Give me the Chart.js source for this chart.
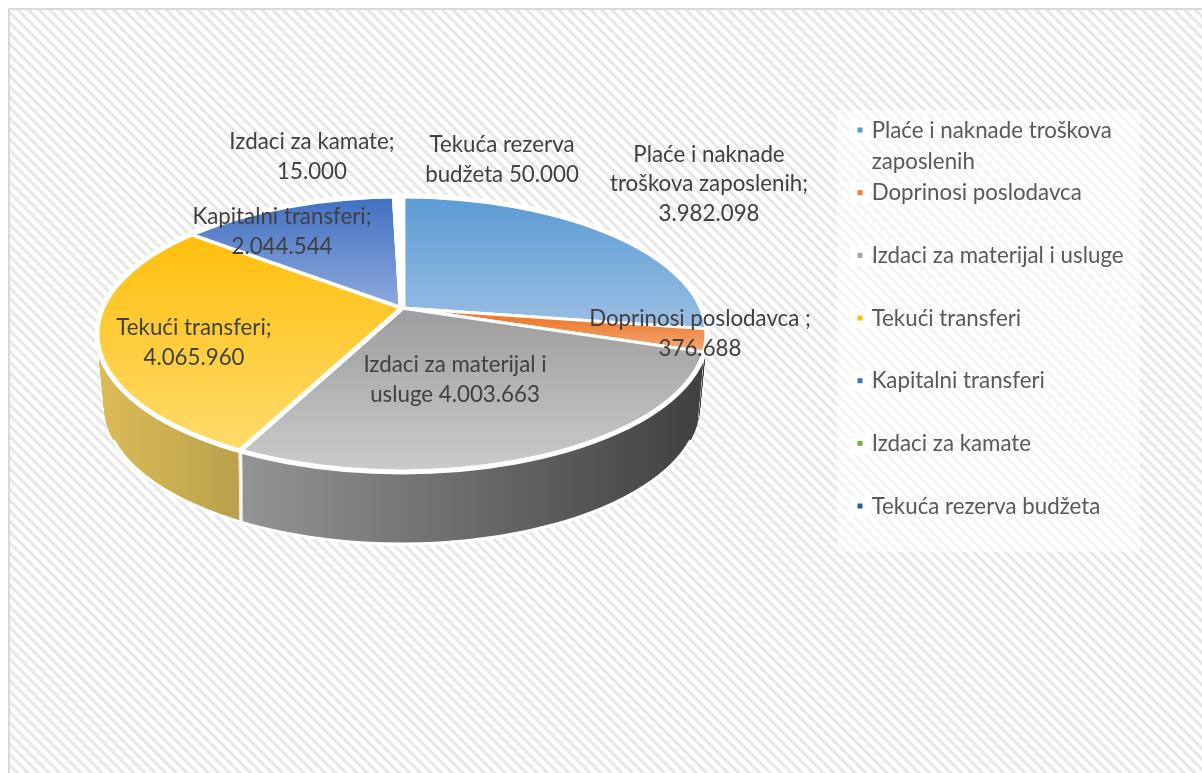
<!DOCTYPE html>
<html><head><meta charset="utf-8">
<style>
html,body{margin:0;padding:0;width:1202px;height:773px;overflow:hidden;background:#fff}
#bg{position:absolute;left:8px;top:8px;width:1194px;height:765px;box-sizing:border-box;border-left:2px solid #d9d9d9;border-top:2px solid #d9d9d9;
background:repeating-linear-gradient(45deg,#fff 0,#fff 3px,#e6e6e6 4.5px,#e6e6e6 6px,#fff 7.5px)}
canvas{position:absolute;left:0;top:0}
</style>
<script src="https://cdn.jsdelivr.net/npm/chart.js@4"></script>
</head><body><div id="bg"></div><canvas id="c" width="1202" height="773"></canvas>
<script>
const categories=['Plaće i naknade troškova zaposlenih','Doprinosi poslodavca','Izdaci za materijal i usluge','Tekući transferi','Kapitalni transferi','Izdaci za kamate','Tekuća rezerva budžeta'];
const values=[3982098,376688,4003663,4065960,2044544,15000,50000];
const legendLines=[['Plaće i naknade troškova','zaposlenih'],['Doprinosi poslodavca',''],['Izdaci za materijal i usluge',''],['Tekući transferi',''],['Kapitalni transferi',''],['Izdaci za kamate',''],['Tekuća rezerva budžeta','']];
const legendColors=['#5b9bd5','#ed7d31','#a5a5a5','#ffc000','#4472c4','#70ad47','#255e91'];
const topStops=[['#5b9bd5','#9dc0e3',196,335],['#ed7d31','#f4a878',320,350],['#a0a0a0','#cbcbcb',320,472],['#ffbf0c','#fedb6c',235,450],['#4070c2','#8fa9dc',196,308],['#70ad47','#70ad47',196,308],['#255e91','#255e91',196,308]];
const sideStops=[['#3f3f3f','#3f3f3f',600,710],['#3f3f3f','#3f3f3f',600,710],['#949494','#3f3f3f',243,707],['#dcbc58','#b9a04a',98,241],['#dcbc58','#dcbc58',190,400],['#dcbc58','#dcbc58',190,400],['#dcbc58','#dcbc58',190,400]];
const labelLines=[['Plaće i naknade','troškova zaposlenih;','@'],['Doprinosi poslodavca ;','@'],['Izdaci za materijal i','usluge @'],['Tekući transferi;','@'],['Kapitalni transferi;','@'],['Izdaci za kamate;','@'],['Tekuća rezerva','budžeta @']];
const labelAnchorX=[709,700,455,194,282,312,502];
const labelAnchorY=[154.5,319,365,328,217,142,145];
const labelStep=29.5;
const fontName='Lato, Carlito, "Open Sans", sans-serif';
const fontSize=22.3;
const apex={x:402,y:308}, squash=0.45, rim={cx:402,cy:334,rx:305,ry:138}, depth=72, baseRx=298;
const rowStep=62.67;
const fmt=v=>String(v).replace(/\B(?=(\d{3})+$)/g,'.');
const center=ch=>({x:(ch.chartArea.left+ch.chartArea.right)/2,y:(ch.chartArea.top+ch.chartArea.bottom)/2});
function topFill(ctx){
  const ch=ctx.chart,i=ctx.dataIndex;
  if(!ch.chartArea||i===undefined) return legendColors[i||0];
  const c=center(ch),s=topStops[i];
  const g=ch.ctx.createLinearGradient(0,c.y+(s[2]-apex.y)/squash,0,c.y+(s[3]-apex.y)/squash);
  g.addColorStop(0,s[0]);g.addColorStop(1,s[1]);return g;
}
const rxAt=d=>rim.rx+(baseRx-rim.rx)*d/depth;
const ellipsePath=(ctx,dy,a0=0,a1=Math.PI*2)=>{ctx.beginPath();ctx.ellipse(rim.cx,rim.cy+dy,rxAt(dy),rim.ry,0,a0,a1);};
const pie3d={id:'pie3d',
  afterLayout(ch){const l=ch.legend;l.left=860.5;l.right=1180;l.top=119.4;l.bottom=773;},
  beforeDraw(ch){
    const ctx=ch.ctx;ctx.save();
    ctx.fillStyle='rgba(255,255,255,0.55)';ctx.fillRect(837,110,303,442);
    ctx.restore();
  },
  beforeDatasetsDraw(ch){
    const ctx=ch.ctx,c=center(ch),arcs=ch.getDatasetMeta(0).data;
    const sides=sideStops.map(s=>{const g=ctx.createLinearGradient(c.x+s[2]-apex.x,0,c.x+s[3]-apex.x,0);g.addColorStop(0,s[0]);g.addColorStop(1,s[1]);return g;});
    for(let d=depth;d>=1;d--){
      ctx.save();ellipsePath(ctx,d);ctx.clip();
      ctx.translate(apex.x,apex.y+d);ctx.scale(1,squash);ctx.translate(-c.x,-c.y);
      arcs.forEach((a,i)=>{const e=Object.create(a);e.options=Object.assign({},a.options,{backgroundColor:sides[i],borderWidth:4});e.draw(ctx);});
      ctx.restore();
    }
    ctx.save();ctx.strokeStyle='#fff';ctx.lineWidth=3;ellipsePath(ctx,depth,0.25,Math.PI-0.25);ctx.stroke();ctx.restore();
    ctx.save();ellipsePath(ctx,0);ctx.clip();
    ctx.translate(apex.x,apex.y);ctx.scale(1,squash);ctx.translate(-c.x,-c.y);
  },
  afterDatasetsDraw(ch){
    const ctx=ch.ctx;ctx.restore();
    ctx.save();ctx.strokeStyle='#fff';ctx.lineWidth=5;ellipsePath(ctx,0);ctx.stroke();ctx.restore();
  },
  afterDraw(ch){
    const ctx=ch.ctx;ctx.save();
    legendColors.forEach((col,i)=>{
      const y=129+rowStep*i+1;
      ctx.fillStyle='rgba(255,255,255,0.9)';ctx.fillRect(850,y-10,20,20);
      ctx.fillStyle=col;ctx.fillRect(857.5,y-2.5,5,5);
    });
    ctx.fillStyle='#404040';ctx.font=fontSize+'px '+fontName;ctx.textAlign='center';ctx.textBaseline='middle';
    labelLines.forEach((ls,i)=>ls.forEach((t,k)=>ctx.fillText(t.replace('@',fmt(values[i])),labelAnchorX[i],labelAnchorY[i]+k*labelStep)));
    ctx.restore();
  }
};
new Chart(document.getElementById('c'),{
  type:'pie',
  data:{labels:categories,datasets:[{data:values,backgroundColor:topFill,borderColor:'#fff',borderWidth:6.5,clip:false}]},
  options:{responsive:false,animation:false,rotation:0,
    layout:{padding:0},
    plugins:{tooltip:{enabled:false},
      legend:{position:'right',align:'start',
        labels:{boxWidth:0,boxHeight:0,padding:0,color:'#595959',font:{family:fontName,size:fontSize,lineHeight:(rowStep/2)+'px'},
          generateLabels:()=>legendLines.map((t,i)=>({text:t,fontColor:'#595959',fillStyle:legendColors[i],strokeStyle:legendColors[i],lineWidth:0,hidden:false,index:i}))}}}},
  plugins:[pie3d]
});
</script></body></html>
